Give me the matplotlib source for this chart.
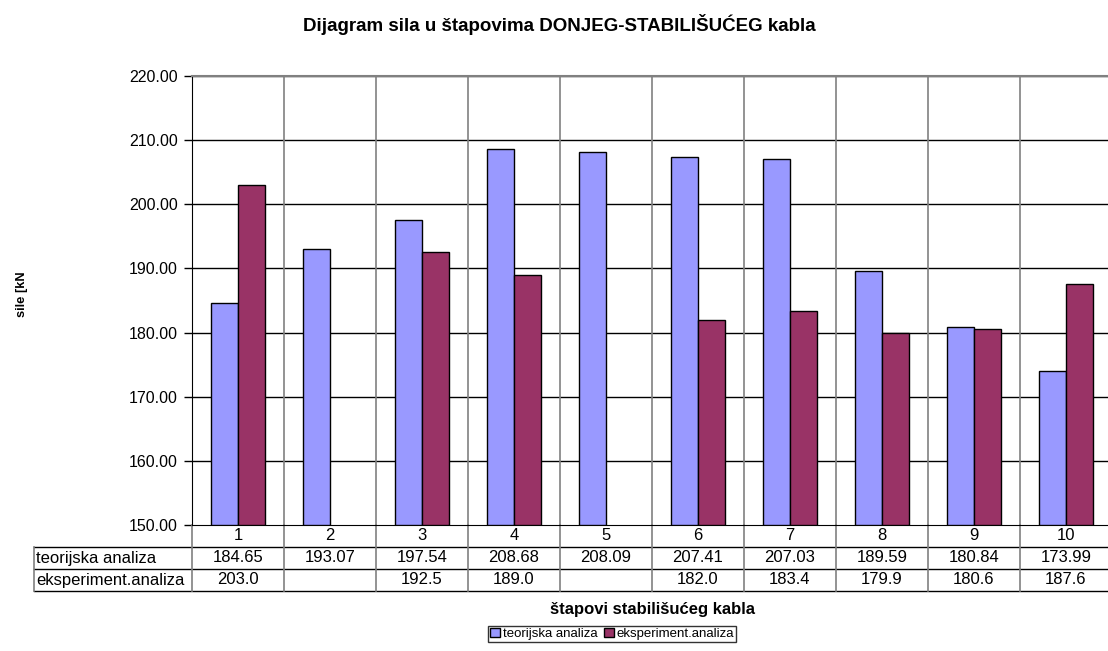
import numpy as np
import matplotlib
matplotlib.use("Agg")
import matplotlib.pyplot as plt
from matplotlib.lines import Line2D
from matplotlib.patches import Patch
import matplotlib.transforms as mtransforms

plt.rcParams['font.family'] = ['Liberation Sans', 'DejaVu Sans']

# podaci
stapovi = ['1', '2', '3', '4', '5', '6', '7', '8', '9', '10']
teorija = [184.65, 193.07, 197.54, 208.68, 208.09, 207.41, 207.03, 189.59, 180.84, 173.99]
eksperiment = [203.0, None, 192.5, 189.0, None, 182.0, 183.4, 179.9, 180.6, 187.6]
teorija_txt = ['184.65', '193.07', '197.54', '208.68', '208.09', '207.41', '207.03', '189.59', '180.84', '173.99']
eksperiment_txt = ['203.0', '', '192.5', '189.0', '', '182.0', '183.4', '179.9', '180.6', '187.6']
red_labels = ['teorijska analiza', 'eksperiment.analiza']

c_teo = '#9999FF'
c_eks = '#993366'
siva = '#808080'
fs_tab = 12

W, H = 1108, 651
fig = plt.figure(figsize=(W / 100, H / 100), dpi=100)
# plot area (pikseli): x 192..1112, y 76..525
ax = fig.add_axes([192 / W, 1 - 525 / H, 920 / W, 449 / H])

x = np.arange(len(stapovi)) + 0.5
bw = 0.293
teo = np.array(teorija, dtype=float)
eks = np.array([np.nan if v is None else v for v in eksperiment], dtype=float)
ax.bar(x - bw / 2, teo - 150, bw, bottom=150, color=c_teo, edgecolor='black', linewidth=1, zorder=3)
ax.bar(x + bw / 2, eks - 150, bw, bottom=150, color=c_eks, edgecolor='black', linewidth=1, zorder=3)

ax.set_xlim(0, len(stapovi))
ax.set_ylim(150, 220)
ax.set_yticks(np.arange(150, 221, 10))
ax.set_yticklabels([f'{v:.2f}' for v in np.arange(150, 221, 10)], fontsize=11.5)
ax.set_xticks([])
ax.tick_params(axis='y', direction='out', length=6, width=1, color='black', pad=4)

for yv in np.arange(160, 221, 10):
    ax.axhline(yv, color='black', linewidth=1, zorder=1)
for xv in range(1, len(stapovi)):
    ax.axvline(xv, color=siva, linewidth=1.2, zorder=1)

for s in ['top', 'right']:
    ax.spines[s].set_color(siva)
    ax.spines[s].set_linewidth(1.5)
ax.spines['left'].set_color('black')
ax.spines['bottom'].set_color('black')

# tablica podataka ispod grafa
trans = mtransforms.blended_transform_factory(ax.transData, ax.transAxes)
r0, r1, r2 = -22 / 449, -44 / 449, -66 / 449
lx = (34 - 192) / 920

def hline(y, x0, x1, col='black'):
    ax.add_line(Line2D([x0, x1], [y, y], transform=ax.transAxes, color=col,
                       linewidth=1, clip_on=False))

hline(r0, lx, 1)
hline(r1, lx, 1)
hline(r2, lx, 1)
ax.add_line(Line2D([lx, lx], [r0, r2], transform=ax.transAxes, color=siva,
                   linewidth=1.2, clip_on=False))
for xv in range(0, len(stapovi) + 1):
    ax.add_line(Line2D([xv, xv], [0, r2], transform=trans, color=siva,
                       linewidth=1.2, clip_on=False))

for i in range(len(stapovi)):
    ax.text(x[i], (0 + r0) / 2, stapovi[i], transform=trans, ha='center', va='center', fontsize=fs_tab)
    ax.text(x[i], (r0 + r1) / 2, teorija_txt[i], transform=trans, ha='center', va='center', fontsize=fs_tab)
    ax.text(x[i], (r1 + r2) / 2, eksperiment_txt[i], transform=trans, ha='center', va='center', fontsize=fs_tab)
ax.text(lx + 0.002, (r0 + r1) / 2, red_labels[0], transform=ax.transAxes, ha='left', va='center', fontsize=fs_tab)
ax.text(lx + 0.002, (r1 + r2) / 2, red_labels[1], transform=ax.transAxes, ha='left', va='center', fontsize=fs_tab)

fig.text(559 / W, 1 - 31 / H, 'Dijagram sila u štapovima DONJEG-STABILIŠUĆEG kabla',
         ha='center', va='baseline', fontsize=13.5, fontweight='bold')
fig.text(22 / W, 1 - 294 / H, 'sile [kN', rotation=90, ha='center', va='center',
         fontsize=9.3, fontweight='bold')
fig.text(653 / W, 1 - 614 / H, 'štapovi stabilišućeg kabla', ha='center', va='baseline',
         fontsize=12, fontweight='bold')

handles = [Patch(facecolor=c_teo, edgecolor='black', linewidth=1),
           Patch(facecolor=c_eks, edgecolor='black', linewidth=1)]
leg = fig.legend(handles, red_labels, loc='center', bbox_to_anchor=(612 / W, 1 - 634 / H),
                 ncol=2, fontsize=9.5, frameon=True, fancybox=False, handlelength=0.75,
                 handleheight=0.75, handletextpad=0.2, columnspacing=0.5, borderpad=0.15,
                 borderaxespad=0)
leg.get_frame().set_edgecolor('black')
leg.get_frame().set_linewidth(1)

fig.savefig('out.png', dpi=100)
